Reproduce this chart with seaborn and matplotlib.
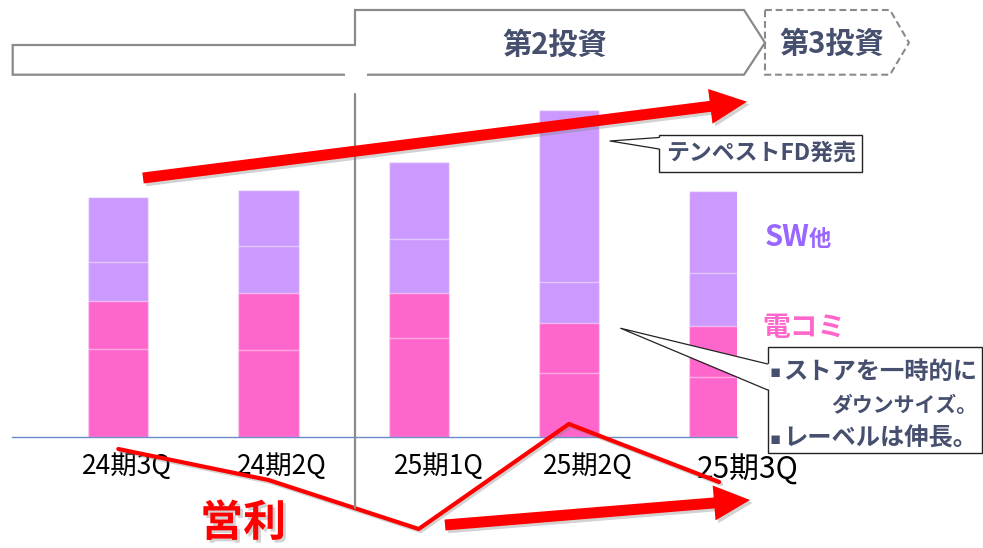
import numpy as np
import pandas as pd
import matplotlib
matplotlib.use("Agg")
import matplotlib.pyplot as plt
import matplotlib.patheffects as pe
from matplotlib.patches import Polygon, FancyArrow, Rectangle
from matplotlib.transforms import ScaledTranslation
import seaborn as sns

# ---- data -------------------------------------------------------------
quarters = ["24期3Q", "24期2Q", "25期1Q", "25期2Q", "25期3Q"]
denkomi_lower = [88, 87, 99, 64, 60]     # 電コミ (lower block)
denkomi_upper = [48, 57, 45, 50, 51]     # 電コミ (upper block)
sw_lower = [39, 47, 54, 41, 53]          # SW他 (lower block)
sw_upper = [65, 56, 77, 172, 82]         # SW他 (upper block)
operating_profit = [91, 60, 11, 116, 58]  # 営利

# ---- style ------------------------------------------------------------
PINK = "#FF66CC"
PURPLE = "#CC99FF"
SW_TEXT = "#9966FF"
SLATE = "#46506E"
RED = "#FF0000"
GRAY = "#8A8A8A"

sns.set_style("white")
plt.rcParams["font.family"] = ["Noto Sans CJK JP", "DejaVu Sans"]

W, H = 983, 548
fig = plt.figure(figsize=(W / 100, H / 100), dpi=100)
fig.patch.set_facecolor("white")


def px_rect(x0, y0, x1, y1):
    """Pixel box (origin top-left) -> figure-fraction rectangle."""
    return [x0 / W, 1 - y1 / H, (x1 - x0) / W, (y1 - y0) / H]


XLIM = (-0.7077, 4.1192)

# ---- stacked bars -----------------------------------------------------
ax = fig.add_axes(px_rect(12, 90, 737, 437))
df = pd.DataFrame({
    "quarter": quarters,
    "d1": denkomi_lower,
    "d2": denkomi_upper,
    "s1": sw_lower,
    "s2": sw_upper,
})
df["c1"] = df["d1"]
df["c2"] = df["c1"] + df["d2"]
df["c3"] = df["c2"] + df["s1"]
df["c4"] = df["c3"] + df["s2"]

for col, color in [("c4", PURPLE), ("c3", PURPLE), ("c2", PINK), ("c1", PINK)]:
    sns.barplot(data=df, x="quarter", y=col, color=color, saturation=1,
                width=0.4, edgecolor=(1, 1, 1, 0.45), linewidth=1, ax=ax)

ax.set_xlim(*XLIM)
ax.set_ylim(0, 347)
ax.set_xlabel("")
ax.set_ylabel("")
ax.set_yticks([])
for s in ("left", "top", "right"):
    ax.spines[s].set_visible(False)
ax.spines["bottom"].set_color("#6A8CC8")
ax.spines["bottom"].set_linewidth(1.0)
ax.patch.set_alpha(0)

ax.set_xticks(range(len(quarters)))
ax.set_xticklabels(quarters)
ax.tick_params(axis="x", length=0, pad=0, colors="black")
label_dx = [8.7, 13.5, 20.3, 19.2, 28.3]
label_dy = [29.7, 29.7, 29.7, 29.7, 33.4]
label_fs = [19, 19, 19, 19, 21.5]
for lab, dx, dy, fs in zip(ax.get_xticklabels(), label_dx, label_dy, label_fs):
    lab.set_fontsize(fs)
    lab.set_verticalalignment("center")
    lab.set_transform(lab.get_transform() +
                      ScaledTranslation(dx / 100, -dy / 100, fig.dpi_scale_trans))

# ---- operating profit line -------------------------------------------
pax = fig.add_axes(px_rect(12, 410, 737, 540))
shadow_line = [pe.SimpleLineShadow(offset=(1.5, -1.5), shadow_color="gray", alpha=0.35),
               pe.Normal()]
sns.lineplot(x=np.arange(len(quarters)), y=operating_profit, color=RED,
             linewidth=3, ax=pax, path_effects=shadow_line)
pax.set_xlim(*XLIM)
pax.set_ylim(0, 130)
pax.axis("off")
pax.patch.set_alpha(0)

# ---- annotation layer (pixel coordinates) ----------------------------
ov = fig.add_axes([0, 0, 1, 1])
ov.set_xlim(0, W)
ov.set_ylim(H, 0)
ov.axis("off")
ov.patch.set_alpha(0)

# phase banner
banner = Polygon([(12.7, 45), (355, 45), (355, 10), (744, 10), (765, 42.7),
                  (744, 74.7), (12.7, 74.7)], closed=True, fill=False,
                 edgecolor=GRAY, linewidth=1.6)
ov.add_patch(banner)
ov.add_patch(Rectangle((345, 72.5), 22, 4.5, facecolor="white", edgecolor="none", zorder=3))
next_phase = Polygon([(765, 10), (890, 10), (909, 42.7), (890, 74.7), (765, 74.7)],
                     closed=True, fill=False, edgecolor=GRAY, linewidth=1.5,
                     linestyle=(0, (3.3, 1.8)))
ov.add_patch(next_phase)
ov.text(555, 45, "第2投資", fontsize=21, fontweight="bold", color=SLATE,
        ha="center", va="center")
ov.text(832, 44, "第3投資", fontsize=21, fontweight="bold", color=SLATE,
        ha="center", va="center")

# divider
ov.plot([355, 355], [94, 508], color=GRAY, linewidth=1.6)

# trend arrows
shadow_patch = [pe.SimplePatchShadow(offset=(2, -2), shadow_rgbFace="gray", alpha=0.35),
                pe.Normal()]
ov.add_patch(FancyArrow(143, 178, 604, -76.3, width=11, head_width=35, head_length=37,
                        length_includes_head=True, color=RED, linewidth=0,
                        path_effects=shadow_patch, zorder=4))
ov.add_patch(FancyArrow(445, 525, 305, -25, width=11, head_width=35, head_length=36,
                        length_includes_head=True, color=RED, linewidth=0,
                        path_effects=shadow_patch, zorder=4))

# callout: release note
ov.add_patch(Rectangle((659, 135), 203, 36.5, facecolor="white", edgecolor="#222222",
                       linewidth=1, zorder=5))
ov.add_patch(Polygon([(661, 137.5), (610, 141), (661, 149)], closed=True,
                     facecolor="white", edgecolor="none", zorder=6))
ov.plot([659, 610, 659], [137.5, 141, 149], color="#222222", linewidth=0.9, zorder=7)
ov.text(760.5, 153.5, "テンペストFD発売", fontsize=16.5, fontweight="bold", color=SLATE,
        ha="center", va="center", zorder=8)

# callout: store note
ov.add_patch(Rectangle((767.7, 346.7), 214, 106.6, facecolor="white", edgecolor="#222222",
                       linewidth=1, zorder=5))
ov.add_patch(Polygon([(769.7, 364), (620.7, 328.3), (769.7, 390)], closed=True,
                     facecolor="white", edgecolor="none", zorder=6))
ov.plot([767.7, 620.7, 767.7], [364, 328.3, 390], color="#222222", linewidth=0.9, zorder=7)
for y in (372, 438.5):
    ov.text(775.5, y, "▪", fontsize=12, family="DejaVu Sans", color=SLATE,
            ha="center", va="center", zorder=8)
ov.text(783, 372, "ストアを一時的に", fontsize=17.5, fontweight="bold", color=SLATE,
        ha="left", va="center", zorder=8)
ov.text(977, 405, "ダウンサイズ。", fontsize=15, fontweight="bold", color=SLATE,
        ha="right", va="center", zorder=8)
ov.text(783, 438.5, "レーベルは伸長。", fontsize=17.5, fontweight="bold", color=SLATE,
        ha="left", va="center", zorder=8)

# series labels
ov.text(765, 246, "SW", fontsize=21, fontweight="bold", color=SW_TEXT,
        ha="left", va="baseline")
ov.text(809, 246, "他", fontsize=16, fontweight="bold", color=SW_TEXT,
        ha="left", va="baseline")
ov.text(762, 328, "電コミ", fontsize=20, fontweight="bold", color=PINK,
        ha="left", va="center")
ov.text(243, 523, "営利", fontsize=31, fontweight="bold", color=RED,
        ha="center", va="center",
        path_effects=[pe.withSimplePatchShadow(offset=(2, -2), shadow_rgbFace="gray",
                                               alpha=0.35)])

fig.savefig("out.png", dpi=100, facecolor="white")
